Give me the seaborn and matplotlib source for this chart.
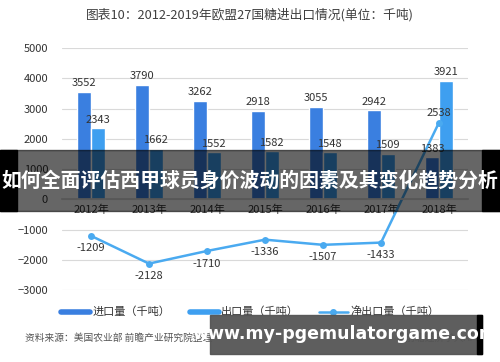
import numpy as np
import pandas as pd
import matplotlib
matplotlib.use("Agg")
import matplotlib.pyplot as plt
import seaborn as sns
from matplotlib.lines import Line2D

years = ["2012年", "2013年", "2014年", "2015年", "2016年", "2017年", "2018年"]
imports = [3552, 3790, 3262, 2918, 3055, 2942, 1383]
exports = [2343, 1662, 1552, 1582, 1548, 1509, 3921]
net_exports = [-1209, -2128, -1710, -1336, -1507, -1433, 2538]
series_names = ["进口量（千吨）", "出口量（千吨）", "净出口量（千吨）"]

c_imp = "#3A7FE0"
c_exp = "#3E9FF0"
c_net = "#4AAAF0"

sns.set_theme(style="white")
plt.rcParams["font.family"] = ["Noto Sans CJK SC", "DejaVu Sans"]

df = pd.DataFrame({
    "year": years * 2,
    "value": imports + exports,
    "kind": [series_names[0]] * 7 + [series_names[1]] * 7,
})

fig = plt.figure(figsize=(5.0, 3.62), dpi=100)
ax = fig.add_axes([0.124, 0.199, 0.812, 0.668])

sns.barplot(data=df, x="year", y="value", hue="kind", palette=[c_imp, c_exp],
            width=0.47, gap=0, saturation=1, legend=False, ax=ax)
sns.lineplot(x=np.arange(len(years)), y=net_exports, color=c_net, linewidth=1.8,
             marker="o", markersize=5, markeredgewidth=0, ax=ax)

ax.set_xlim(-0.5, 6.5)
ax.set_ylim(-3000, 5000)
ax.set_yticks(range(-3000, 5001, 1000))
ax.yaxis.grid(True, color="#d9d9d9", linewidth=0.8)
ax.set_axisbelow(True)
for s in ["left", "right", "top"]:
    ax.spines[s].set_visible(False)
ax.spines["bottom"].set_position(("data", 0))
ax.spines["bottom"].set_color("#d9d9d9")
ax.tick_params(axis="y", labelsize=8, colors="#333333", length=0, pad=10)
ax.tick_params(axis="x", labelsize=8, colors="#333333", length=0, pad=4)
ax.set_xlabel("")
ax.set_ylabel("")

off = 0.47 / 4
for i in range(len(years)):
    ax.text(i - off, imports[i] + 120, str(imports[i]), ha="center", va="bottom",
            fontsize=8, color="#333333")
    ax.text(i + off, exports[i] + 120, str(exports[i]), ha="center", va="bottom",
            fontsize=8, color="#333333")
    if net_exports[i] < 0:
        ax.text(i, net_exports[i] - 250, str(net_exports[i]), ha="center", va="top",
                fontsize=8, color="#333333")
    else:
        ax.text(i, net_exports[i] + 150, str(net_exports[i]), ha="center",
                va="bottom", fontsize=8, color="#333333")

fig.text(0.5, 0.958, "图表10：2012-2019年欧盟27国糖进出口情况(单位：千吨)",
         ha="center", va="center", fontsize=9.2, color="#404040")

handles = [
    Line2D([0], [0], color=c_imp, linewidth=4),
    Line2D([0], [0], color=c_exp, linewidth=4),
    Line2D([0], [0], color=c_net, linewidth=1.8, marker="o", markersize=4),
]
fig.legend(handles, series_names, loc="center", bbox_to_anchor=(0.5, 0.138), ncol=3,
           frameon=False, fontsize=8, handlelength=2.6, columnspacing=1.8,
           handletextpad=0.2, labelcolor="#333333")

fig.text(0.05, 0.066, "资料来源：美国农业部 前瞻产业研究院整理", ha="left", va="center",
         fontsize=7, color="#555555", style="italic")
fig.text(0.965, 0.066, "@前瞻经济学人APP", ha="right", va="center",
         fontsize=7, color="#555555")

# overlay banners
fig.patches.append(plt.Rectangle((0, 0.417), 1, 0.169, transform=fig.transFigure,
                                 color="#000000", alpha=0.6, zorder=10))
fig.patches.append(plt.Rectangle((0, 0.417), 0.034, 0.169, transform=fig.transFigure,
                                 color="#000000", zorder=10))
fig.patches.append(plt.Rectangle((0.964, 0.417), 0.036, 0.169, transform=fig.transFigure,
                                 color="#000000", zorder=10))
fig.text(0.5, 0.503, "如何全面评估西甲球员身价波动的因素及其变化趋势分析", ha="center",
         va="center", fontsize=14.3, color="white", fontweight="bold", zorder=11)

fig.patches.append(plt.Rectangle((0.42, 0.022), 0.544, 0.108, transform=fig.transFigure,
                                 color="#555555", alpha=0.95, zorder=10))
fig.patches.append(plt.Rectangle((0.954, 0.022), 0.01, 0.108, transform=fig.transFigure,
                                 color="#000000", zorder=10))
fig.text(0.69, 0.078, "www.my-pgemulatorgame.com", ha="center", va="center",
         fontsize=12.5, color="white", fontweight="bold", family="DejaVu Sans", zorder=11)

fig.savefig("out.png", dpi=100)
plt.close(fig)
